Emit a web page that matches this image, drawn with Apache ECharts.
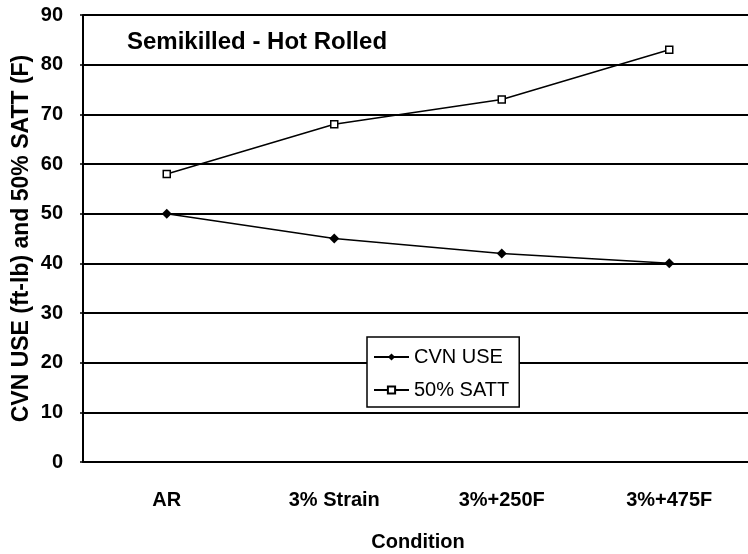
<!DOCTYPE html>
<html>
<head>
<meta charset="utf-8">
<script src="https://cdn.jsdelivr.net/npm/echarts@6/dist/echarts.min.js"></script>
<style>
  html, body { margin: 0; padding: 0; background: #fff; }
  #chart { width: 748px; height: 554px; }
</style>
</head>
<body>
<div id="chart"></div>
<script>
var conditions = ['AR', '3% Strain', '3%+250F', '3%+475F'];
var cvnUse = [50, 45, 42, 40];
var satt = [58, 68, 73, 83];

var font = '"Liberation Sans", Arial, sans-serif';
var myChart = echarts.init(document.getElementById('chart'));
var option = {
    backgroundColor: '#fff',
    animation: false,
    textStyle: { fontFamily: font, color: '#000' },
    title: {
        text: 'Semikilled - Hot Rolled',
        left: 127,
        top: 30,
        padding: 0,
        textStyle: { fontFamily: font, fontSize: 24, fontWeight: 'bold', color: '#000' }
    },
    grid: { left: 83, top: 15, width: 670, height: 447, outerBoundsMode: 'none' },
    legend: {
        orient: 'vertical',
        left: 367,
        top: 337,
        padding: [10, 10, 7, 6],
        backgroundColor: '#fff',
        borderColor: '#000',
        borderWidth: 1.5,
        itemWidth: 35,
        itemHeight: 9,
        itemGap: 13,
        textStyle: { fontFamily: font, fontSize: 20, color: '#000' },
        data: ['CVN USE', '50% SATT']
    },
    xAxis: {
        type: 'category',
        data: conditions,
        name: 'Condition',
        nameLocation: 'middle',
        nameGap: 70,
        nameMoveOverlap: false,
        nameTextStyle: { fontFamily: font, fontSize: 20, fontWeight: 'bold', color: '#000' },
        axisLine: { lineStyle: { color: '#000', width: 2 } },
        axisTick: { inside: true, length: 5, lineStyle: { color: '#000', width: 1.5 } },
        axisLabel: { margin: 28, fontFamily: font, fontSize: 20, fontWeight: 'bold', color: '#000' }
    },
    yAxis: {
        type: 'value',
        min: 0,
        max: 90,
        interval: 10,
        name: 'CVN USE (ft-lb) and 50% SATT (F)',
        nameLocation: 'middle',
        nameGap: 50,
        nameMoveOverlap: false,
        nameTextStyle: { fontFamily: font, fontSize: 23, fontWeight: 'bold', color: '#000' },
        axisLine: { show: true, lineStyle: { color: '#000', width: 2 } },
        axisTick: { show: true, length: 3, lineStyle: { color: '#000', width: 1.5 } },
        axisLabel: { margin: 20, fontFamily: font, fontSize: 20, fontWeight: 'bold', color: '#000' },
        splitLine: { lineStyle: { color: '#000', width: 2 } }
    },
    series: [
        {
            name: 'CVN USE',
            type: 'line',
            data: cvnUse,
            symbol: 'diamond',
            symbolSize: 10,
            itemStyle: { color: '#000' },
            lineStyle: { color: '#000', width: 1.5 }
        },
        {
            name: '50% SATT',
            type: 'line',
            data: satt,
            symbol: 'rect',
            symbolSize: 7,
            itemStyle: { color: '#fff', borderColor: '#000', borderWidth: 1.5 },
            lineStyle: { color: '#000', width: 1.5 }
        }
    ]
};
myChart.setOption(option, true);
</script>
</body>
</html>
